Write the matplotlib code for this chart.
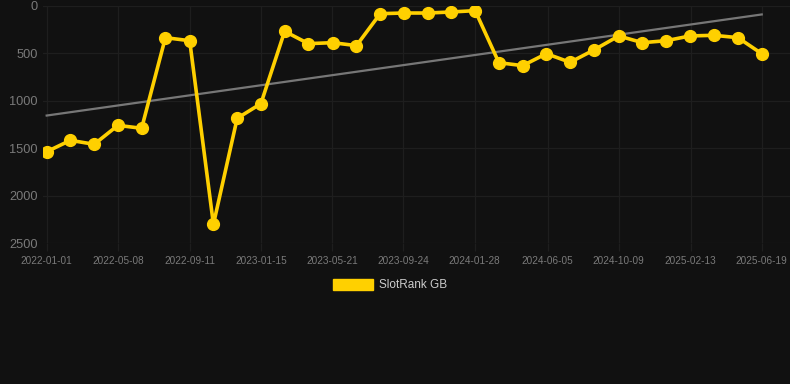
import numpy as np
import pandas as pd
import matplotlib
matplotlib.use("Agg")
import matplotlib.pyplot as plt
import matplotlib.dates as mdates
from matplotlib.patches import Patch

plt.rcParams['font.family'] = ['Liberation Sans', 'DejaVu Sans']

# data
dates = ["2022-01-01", "2022-02-12", "2022-03-26", "2022-05-07", "2022-06-18",
         "2022-07-30", "2022-09-11", "2022-10-23", "2022-12-04", "2023-01-15",
         "2023-02-26", "2023-04-09", "2023-05-22", "2023-07-03", "2023-08-14",
         "2023-09-25", "2023-11-06", "2023-12-18", "2024-01-29", "2024-03-11",
         "2024-04-22", "2024-06-03", "2024-07-15", "2024-08-26", "2024-10-09",
         "2024-11-20", "2025-01-01", "2025-02-12", "2025-03-26", "2025-05-08",
         "2025-06-19"]
rank = [1537, 1417, 1459, 1259, 1290, 334, 366, 2303, 1185, 1030,
        267, 397, 387, 418, 81, 74, 74, 63, 49, 598,
        629, 503, 594, 464, 316, 387, 366, 316, 309, 334,
        503]
tick_labels = ["2022-01-01", "2022-05-08", "2022-09-11", "2023-01-15", "2023-05-21",
               "2023-09-24", "2024-01-28", "2024-06-05", "2024-10-09", "2025-02-13",
               "2025-06-19"]
y_ticks = [0, 500, 1000, 1500, 2000, 2500]
series_name = "SlotRank GB"

bg = "#111111"
gold = "#FFD000"
grid_c = "#1e1e1e"
label_c = "#7a7a7a"

x = pd.to_datetime(dates)
xn = mdates.date2num(x)

fig = plt.figure(figsize=(7.9, 3.84), dpi=100, facecolor=bg)
ax = fig.add_axes([43 / 790, 1 - 243 / 384, 1 - 43 / 790, 237 / 384])
ax.set_facecolor(bg)

# linear trend of the series
k, b = np.polyfit(xn, rank, 1)
ax.plot([xn[0], xn[-1]], [k * xn[0] + b, k * xn[-1] + b], color="#777777", lw=1.6, zorder=2)

ax.plot(xn, rank, color=gold, lw=2.6, marker="o", ms=8.5, zorder=3)

ax.set_ylim(2500, 0)
ax.set_xlim(xn[0] - 6.5, xn[-1] + 50)
ax.set_yticks(y_ticks)
ax.set_yticklabels([str(v) for v in y_ticks])
ax.set_xticks(mdates.date2num(pd.to_datetime(tick_labels)))
ax.set_xticklabels(tick_labels)

ax.grid(True, color=grid_c, lw=0.9, zorder=0)
for s in ax.spines.values():
    s.set_visible(False)
ax.tick_params(axis="y", length=0, pad=4, labelsize=9.2, labelcolor=label_c)
ax.tick_params(axis="x", length=6, width=0.9, color=grid_c, pad=3, labelsize=7.2, labelcolor=label_c)

handle = Patch(facecolor=gold, edgecolor=gold)
leg = fig.legend([handle], [series_name], loc="center", bbox_to_anchor=(390 / 790, 1 - 285 / 384),
                 frameon=False, fontsize=8.5, handlelength=3.4, handleheight=1.1, handletextpad=0.5)
for t in leg.get_texts():
    t.set_color("#cccccc")

fig.savefig("out.png", dpi=100, facecolor=bg)
